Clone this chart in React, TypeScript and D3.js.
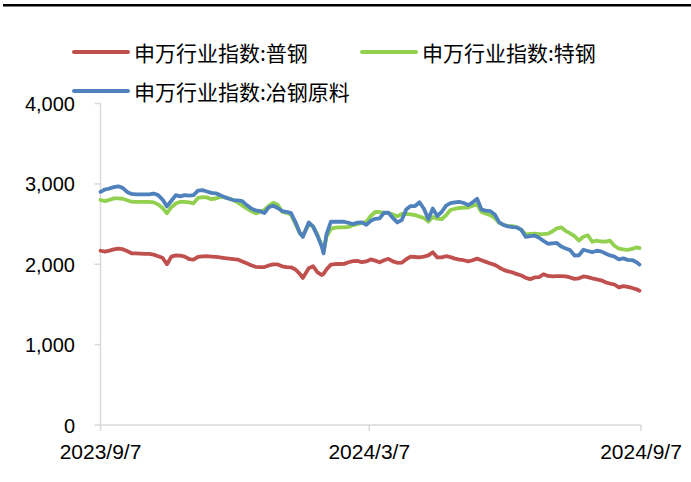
import { useEffect, useRef } from 'react';
import * as d3 from 'd3';

// sampled trading dates (roughly every 3 days)
const dates = [
  '2023-09-07', '2023-09-10', '2023-09-13', '2023-09-16', '2023-09-19', '2023-09-22', '2023-09-25', '2023-09-28',
  '2023-10-01', '2023-10-04', '2023-10-07', '2023-10-10', '2023-10-13', '2023-10-16', '2023-10-19', '2023-10-22', '2023-10-25', '2023-10-28', '2023-10-31',
  '2023-11-03', '2023-11-06', '2023-11-09', '2023-11-12', '2023-11-15', '2023-11-18', '2023-11-21', '2023-11-24', '2023-11-27', '2023-11-30',
  '2023-12-03', '2023-12-06', '2023-12-09', '2023-12-12', '2023-12-15', '2023-12-18', '2023-12-21', '2023-12-24', '2023-12-27', '2023-12-30',
  '2024-01-02', '2024-01-05', '2024-01-08', '2024-01-11', '2024-01-14', '2024-01-17', '2024-01-20',
  '2024-01-22', '2024-01-26', '2024-01-29', '2024-02-01', '2024-02-04', '2024-02-05', '2024-02-07',
  '2024-02-10', '2024-02-13', '2024-02-16', '2024-02-19', '2024-02-22', '2024-02-25', '2024-02-28',
  '2024-03-02', '2024-03-05', '2024-03-08', '2024-03-11', '2024-03-14', '2024-03-17', '2024-03-20', '2024-03-23', '2024-03-26', '2024-03-29',
  '2024-04-01', '2024-04-04', '2024-04-07', '2024-04-10', '2024-04-13', '2024-04-16', '2024-04-19', '2024-04-22', '2024-04-25', '2024-04-28',
  '2024-05-01', '2024-05-04', '2024-05-07', '2024-05-10', '2024-05-13', '2024-05-16', '2024-05-19', '2024-05-22', '2024-05-25', '2024-05-28', '2024-05-31',
  '2024-06-03', '2024-06-06', '2024-06-09', '2024-06-12', '2024-06-15', '2024-06-18', '2024-06-21', '2024-06-24', '2024-06-27', '2024-06-30',
  '2024-07-03', '2024-07-06', '2024-07-09', '2024-07-12', '2024-07-15', '2024-07-18', '2024-07-21', '2024-07-24', '2024-07-27', '2024-07-30',
  '2024-08-02', '2024-08-05', '2024-08-08', '2024-08-11', '2024-08-14', '2024-08-17', '2024-08-20', '2024-08-23', '2024-08-26', '2024-08-29',
  '2024-09-01', '2024-09-04', '2024-09-06',
];

// 申万行业指数:普钢
const puGang = [
  2168, 2158, 2170, 2185, 2195, 2188, 2165, 2137,
  2135, 2133, 2130, 2128, 2120, 2100, 2080, 2000, 2095, 2110, 2108,
  2095, 2065, 2058, 2092, 2099, 2100, 2096, 2092, 2085, 2077,
  2070, 2064, 2058, 2035, 2011, 1988, 1968, 1965, 1965, 1985,
  1998, 1998, 1975, 1965, 1962, 1935, 1880,
  1830, 1950, 1975, 1900, 1865, 1880, 1935,
  1995, 2003, 2003, 2005, 2025, 2038, 2042,
  2025, 2035, 2060, 2045, 2025, 2050, 2068, 2035, 2018, 2020,
  2062, 2094, 2090, 2086, 2095, 2110, 2150, 2085, 2085, 2100,
  2088, 2070, 2058, 2050, 2036, 2050, 2070, 2050, 2030, 2010, 1992,
  1960, 1930, 1912, 1898, 1877, 1860, 1830, 1815, 1836, 1840,
  1876, 1855, 1848, 1853, 1853, 1850, 1836, 1818, 1825, 1848,
  1840, 1825, 1812, 1800, 1775, 1760, 1748, 1712, 1728, 1718,
  1705, 1688, 1670,
];

// 申万行业指数:特钢
const teGang = [
  2799, 2785, 2800, 2820, 2820, 2815, 2797, 2778,
  2777, 2777, 2777, 2777, 2770, 2745, 2700, 2635, 2710, 2755, 2777,
  2777, 2770, 2757, 2825, 2835, 2832, 2810, 2818, 2838, 2832,
  2818, 2795, 2770, 2730, 2695, 2662, 2633, 2648, 2675, 2726,
  2765, 2740, 2652, 2640, 2620, 2500, 2385,
  2360, 2495, 2470, 2360, 2230, 2155, 2340,
  2440, 2455, 2459, 2459, 2465, 2487, 2500,
  2515, 2528, 2600, 2650, 2650, 2640, 2635, 2620, 2595, 2625,
  2628, 2620, 2612, 2593, 2575, 2530, 2588, 2568, 2560, 2610,
  2675, 2690, 2700, 2705, 2705, 2728, 2745, 2650, 2628, 2610, 2575,
  2515, 2490, 2475, 2475, 2458, 2430, 2370, 2378, 2382, 2376,
  2375, 2380, 2410, 2446, 2459, 2415, 2385, 2350, 2295, 2342,
  2360, 2280, 2293, 2283, 2282, 2293, 2230, 2195, 2185, 2180,
  2190, 2210, 2200,
];

// 申万行业指数:冶钢原料
const yeGangYuanLiao = [
  2900, 2930, 2942, 2960, 2970, 2950, 2900, 2875,
  2869, 2869, 2869, 2869, 2880, 2860, 2805, 2720, 2790, 2860, 2845,
  2860, 2855, 2860, 2915, 2922, 2905, 2888, 2883, 2860, 2835,
  2815, 2799, 2795, 2785, 2736, 2695, 2670, 2662, 2636, 2710,
  2728, 2700, 2662, 2653, 2636, 2525, 2390,
  2340, 2520, 2468, 2350, 2210, 2135, 2370,
  2529, 2529, 2529, 2529, 2515, 2500, 2518,
  2520, 2490, 2540, 2565, 2570, 2641, 2641, 2575, 2520, 2550,
  2680, 2724, 2724, 2772, 2690, 2560, 2695, 2600, 2650, 2730,
  2760, 2770, 2777, 2762, 2736, 2770, 2815, 2680, 2668, 2660, 2620,
  2520, 2488, 2472, 2463, 2458, 2427, 2340, 2350, 2356, 2330,
  2290, 2255, 2260, 2265, 2220, 2195, 2176, 2108, 2112, 2180,
  2165, 2150, 2168, 2160, 2135, 2110, 2095, 2062, 2073, 2055,
  2052, 2025, 1995,
];

const seriesNames = ['申万行业指数:普钢', '申万行业指数:特钢', '申万行业指数:冶钢原料'];
const seriesColors = ['#C0504D', '#92D050', '#4F81BD'];
const yTicks = [0, 1000, 2000, 3000, 4000];
const xTickLabels = ['2023/9/7', '2024/3/7', '2024/9/7'];

const width = 691;
const height = 482;

const App = () => {
  const svgRef = useRef<SVGSVGElement>(null);

  useEffect(() => {
    if (!svgRef.current) return;
    const svg = d3.select(svgRef.current);
    svg.selectAll('*').remove();

    const parse = d3.timeParse('%Y-%m-%d');
    const tickParse = d3.timeParse('%Y/%m/%d');
    const xs = dates.map((d) => parse(d) as Date);

    const x = d3
      .scaleTime()
      .domain([tickParse('2023/9/7') as Date, tickParse('2024/9/7') as Date])
      .range([100.5, 641]);
    const y = d3.scaleLinear().domain([0, 4000]).range([425, 103.5]);

    const axisColor = '#d9d9d9';
    const latin = 'Arial, "Liberation Sans", sans-serif';
    const cjk = '"Noto Sans CJK SC", sans-serif';

    // top rule
    svg.append('line')
      .attr('x1', 3).attr('x2', width)
      .attr('y1', 5.3).attr('y2', 5.3)
      .attr('stroke', '#000').attr('stroke-width', 2.6);

    // y axis
    const gy = svg.append('g');
    gy.append('line')
      .attr('x1', 100.5).attr('x2', 100.5)
      .attr('y1', y(4000)).attr('y2', y(0))
      .attr('stroke', axisColor).attr('stroke-width', 1.5);
    yTicks.forEach((t) => {
      gy.append('line')
        .attr('x1', 94.5).attr('x2', 100.5)
        .attr('y1', y(t)).attr('y2', y(t))
        .attr('stroke', axisColor).attr('stroke-width', 1.5);
      gy.append('text')
        .attr('x', 75)
        .attr('y', y(t) + 7.5)
        .attr('text-anchor', 'end')
        .attr('font-family', latin)
        .attr('font-size', 20)
        .attr('fill', '#000')
        .text(d3.format(',')(t));
    });

    // x axis
    const gx = svg.append('g');
    gx.append('line')
      .attr('x1', 100.5).attr('x2', 641)
      .attr('y1', 425).attr('y2', 425)
      .attr('stroke', axisColor).attr('stroke-width', 1.5);
    xTickLabels.forEach((lbl) => {
      const px = x(tickParse(lbl) as Date);
      gx.append('line')
        .attr('x1', px).attr('x2', px)
        .attr('y1', 425).attr('y2', 431)
        .attr('stroke', axisColor).attr('stroke-width', 1.5);
      gx.append('text')
        .attr('x', px)
        .attr('y', 459)
        .attr('text-anchor', 'middle')
        .attr('font-family', latin)
        .attr('font-size', 21)
        .attr('fill', '#000')
        .text(lbl);
    });

    // series
    const line = d3
      .line<number>()
      .x((_, i) => x(xs[i]))
      .y((v) => y(v));

    [puGang, teGang, yeGangYuanLiao].forEach((vals, k) => {
      svg.append('path')
        .attr('d', line(vals) as string)
        .attr('fill', 'none')
        .attr('stroke', seriesColors[k])
        .attr('stroke-width', 3.8)
        .attr('stroke-linejoin', 'round')
        .attr('stroke-linecap', 'round');
    });

    // legend
    const legendPos = [
      { x: 74, y: 52 },
      { x: 362, y: 52 },
      { x: 74, y: 91 },
    ];
    seriesNames.forEach((name, k) => {
      const p = legendPos[k];
      svg.append('line')
        .attr('x1', p.x).attr('x2', p.x + 54)
        .attr('y1', p.y).attr('y2', p.y)
        .attr('stroke', seriesColors[k])
        .attr('stroke-width', 4)
        .attr('stroke-linecap', 'round');
      svg.append('text')
        .attr('x', p.x + 60)
        .attr('y', p.y)
        .attr('dominant-baseline', 'central')
        .attr('font-family', cjk)
        .attr('font-size', 21)
        .attr('fill', '#000')
        .text(name);
    });
  }, []);

  return (
    <svg
      ref={svgRef}
      width={width}
      height={height}
      style={{ position: 'absolute', left: 0, top: 0, background: '#fff' }}
    />
  );
};

export default App;
